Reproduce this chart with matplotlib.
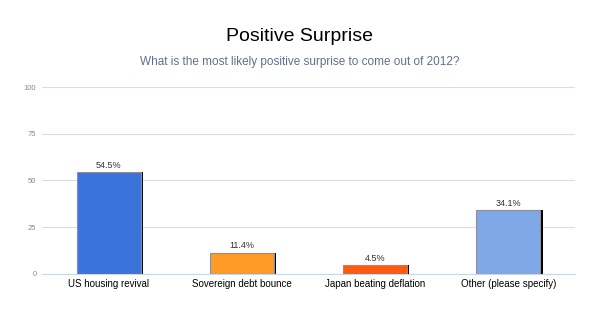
import numpy as np
import matplotlib.pyplot as plt

plt.rcParams['font.family'] = ['Liberation Sans', 'DejaVu Sans']

categorias = ["US housing revival", "Sovereign debt bounce",
              "Japan beating deflation", "Other (please specify)"]
valores = [54.5, 11.4, 4.5, 34.1]
colores = ["#3a74da", "#ff9a26", "#ff5b0f", "#80a7e6"]
yticks = [0, 25, 50, 75, 100]

fig = plt.figure(figsize=(6, 3.26), dpi=100)
ax = fig.add_axes([0.07, 0.16, 0.888, 0.573])

x = np.arange(len(categorias))
ancho = 0.48

# sombra negra a la derecha de cada barra
ax.bar(x + 0.018, valores, width=ancho, color="black", zorder=2)
ax.bar(x, valores, width=ancho, color=colores, edgecolor="#8a8f99",
       linewidth=0.8, zorder=3)

for i in range(len(valores)):
    ax.text(x[i], valores[i] + 1.2, "%.1f%%" % valores[i], ha="center",
            va="bottom", fontsize=6.5, color="#333333")

ax.set_xlim(-0.5, len(categorias) - 0.5)
ax.set_ylim(0, 100)
ax.set_yticks(yticks)
ax.set_yticklabels([str(t) for t in yticks], fontsize=5.5, color="#888888")
ax.set_xticks(x)
ax.set_xticklabels(categorias, fontsize=7, color="black")
ax.tick_params(axis="both", length=0, pad=4)
ax.tick_params(axis="y", pad=4)

ax.grid(axis="y", color="#dddddd", linewidth=0.8, zorder=0)
for lado in ["top", "right", "left"]:
    ax.spines[lado].set_visible(False)
ax.spines["bottom"].set_color("#ccd6e6")
ax.spines["bottom"].set_linewidth(0.8)

fig.text(0.5, 0.888, "Positive Surprise", ha="center", va="center",
         fontsize=14, color="black")
fig.text(0.5, 0.81, "What is the most likely positive surprise to come out of 2012?",
         ha="center", va="center", fontsize=8.5, color="#5f7189")

fig.savefig("out.png", dpi=100)
